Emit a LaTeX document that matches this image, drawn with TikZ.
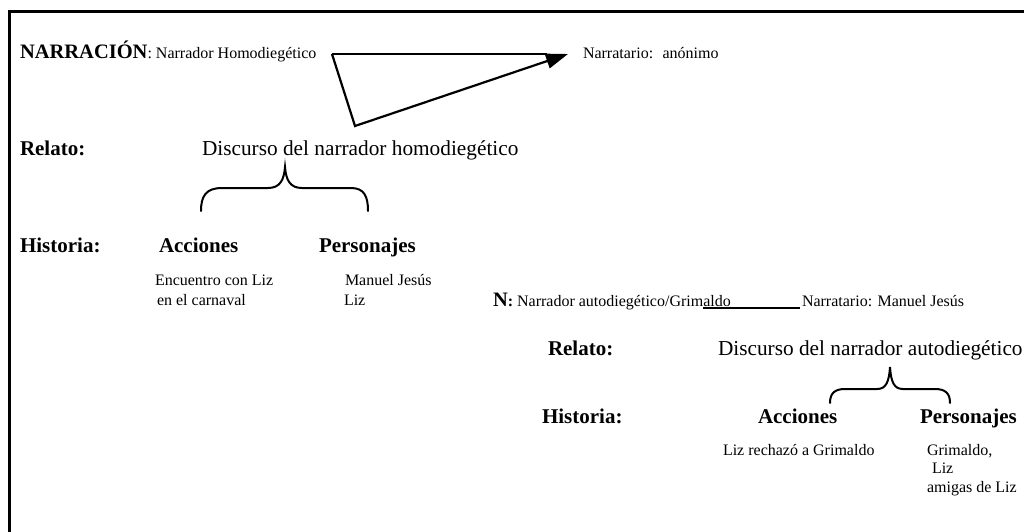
\documentclass[tikz,border=0pt]{standalone}
\usepackage{fontspec}
\setmainfont{Liberation Serif}
\usetikzlibrary{arrows.meta}
\begin{document}
\begin{tikzpicture}[x=1pt,y=-1pt,
  txt/.style={anchor=base west,inner sep=0pt,outer sep=0pt},
  head/.style={txt,font=\fontsize{21}{25}\selectfont\bfseries},
  disc/.style={txt,font=\fontsize{21.3}{26}\selectfont},
  small/.style={txt,font=\fontsize{16}{19}\selectfont},
  frame/.style={line width=3pt},
  link/.style={line width=2.2pt},
  bracket/.style={line width=2pt,line cap=round}]
\useasboundingbox (0,0) rectangle (1024,531);

% page frame (top and left edges)
\coordinate (ftl) at (9,11);
\coordinate (ftr) at (1026,11);
\coordinate (fbl) at (9,533);
\draw[frame] (ftr) -- (ftl) -- (fbl);

% first level: narration
\node[txt] (narr) at (20,58) {\fontsize{20.5}{24}\selectfont\bfseries NARRACIÓN\fontsize{16}{19}\selectfont\mdseries: Narrador Homodiegético};
\node[small] (narrat) at (583,58) {Narratario:~ anónimo};
\coordinate (a1) at (332,54);
\coordinate (a2) at (547,54);
\coordinate (a3) at (355,126);
\coordinate (a4) at (568,54);
\draw[line width=2pt] (a1) -- (a2);
\draw[link,line join=miter,-{Triangle[length=22pt,width=15pt]}] (a1) -- (a3) -- (a4);

\node[head] (rel1) at (20,155) {Relato:};
\node[disc] (dis1) at (202,155) {Discurso del narrador homodiegético};
\draw[bracket] (201,211) .. controls (201,196) and (206,188) .. (222,188)
  -- (268,188) .. controls (280,188) and (284,180) .. (285,167)
  .. controls (286,180) and (290,188) .. (302,188)
  -- (351,188) .. controls (364,188) and (368,196) .. (368,211);

\node[head] (his1) at (20,252) {Historia:};
\node[head] (acc1) at (159,252) {Acciones};
\node[head] (per1) at (319,252) {Personajes};
\node[small] (acc1a) at (155,285) {Encuentro con Liz};
\node[small] (acc1b) at (157,305) {en el carnaval};
\node[small] (per1a) at (345,285) {Manuel Jesús};
\node[small] (per1b) at (344,305) {Liz};

% second level: embedded narration
\node[txt] (narr2) at (493,306) {\fontsize{20.5}{24}\selectfont\bfseries N\fontsize{16}{19}\selectfont:\mdseries\ Narrador autodiegético/Grimaldo};
\node[small] (narrat2) at (802,306) {Narratario: Manuel Jesús};
\coordinate (u1) at (703,308);
\coordinate (u2) at (800,308);
\draw[line width=1.4pt] (u1) -- (u2);

\node[head] (rel2) at (548,355) {Relato:};
\node[disc] (dis2) at (718,355) {Discurso del narrador autodiegético};
\draw[bracket] (830,403) .. controls (830,393) and (835,389) .. (845,389)
  -- (877,389) .. controls (886,389) and (889,382) .. (890,367)
  .. controls (891,382) and (894,389) .. (903,389)
  -- (935,389) .. controls (945,389) and (950,393) .. (950,403);

\node[head] (his2) at (542,423) {Historia:};
\node[head] (acc2) at (758,423) {Acciones};
\node[head] (per2) at (920,423) {Personajes};
\node[small] (acc2a) at (723,455) {Liz rechazó a Grimaldo};
\node[small] (per2a) at (927,455) {Grimaldo,};
\node[small] (per2b) at (932,473) {Liz};
\node[small] (per2c) at (927,492) {amigas de Liz};
\end{tikzpicture}
\end{document}
